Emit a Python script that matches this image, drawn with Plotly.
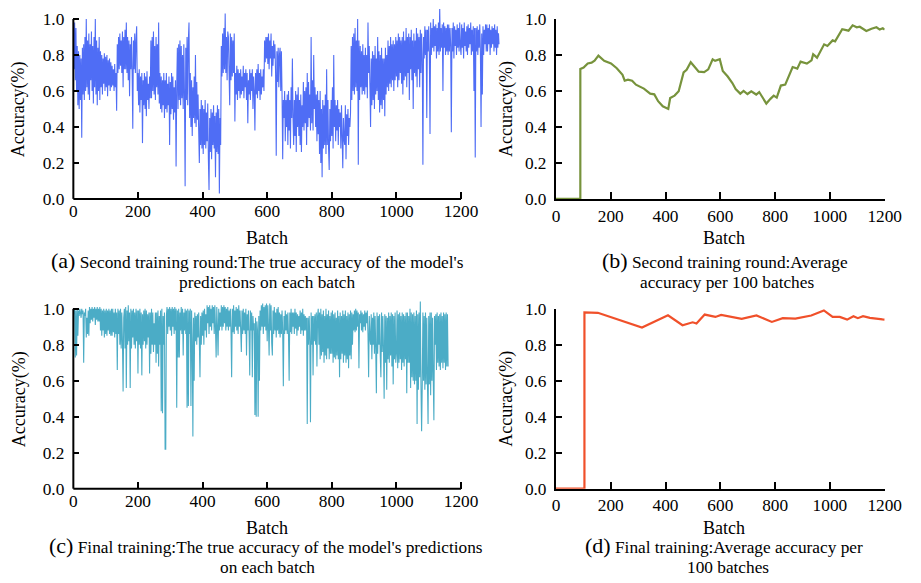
import plotly.graph_objects as go

# ---------------- data ----------------
# Per-batch accuracy, second training round (every 2nd batch, 20 values per row = 40 batches)
round2_batch_acc = [
    1.00, 0.72, 0.98, 0.66, 0.95, 0.60, 0.85, 0.52, 0.82, 0.50, 0.80, 0.55, 0.78, 0.34, 0.84, 0.58, 0.86, 0.55, 0.90, 0.60,
    1.00, 0.62, 0.88, 0.58, 0.92, 0.55, 0.86, 0.66, 0.93, 0.60, 0.85, 0.53, 0.90, 0.62, 1.00, 0.58, 0.88, 0.52, 0.84, 0.60,
    0.90, 0.55, 0.82, 0.62, 0.80, 0.58, 0.78, 0.64, 0.81, 0.60, 0.79, 0.62, 0.80, 0.57, 0.77, 0.63, 0.78, 0.60, 0.76, 0.62,
    0.74, 0.63, 0.72, 0.60, 0.75, 0.62, 0.70, 0.49, 0.86, 0.70, 0.90, 0.72, 0.92, 0.74, 0.88, 0.70, 0.93, 0.62, 0.90, 0.72,
    0.94, 0.72, 0.98, 0.70, 0.90, 0.66, 0.88, 0.57, 0.86, 0.72, 0.90, 0.70, 0.39, 0.88, 0.72, 0.92, 0.70, 0.88, 0.96, 0.60,
    0.70, 0.52, 0.72, 0.48, 0.68, 0.55, 0.70, 0.31, 0.66, 0.52, 0.70, 0.50, 0.68, 0.46, 0.71, 0.55, 0.64, 0.50, 0.68, 0.56,
    0.88, 0.56, 0.90, 0.60, 0.93, 0.58, 0.85, 0.55, 0.90, 0.62, 0.86, 0.58, 0.98, 0.53, 0.70, 0.50, 0.68, 0.48, 0.66, 0.52,
    0.70, 0.45, 0.66, 0.50, 0.70, 0.48, 0.64, 0.52, 0.68, 0.30, 0.65, 0.47, 0.70, 0.50, 0.68, 0.44, 0.62, 0.48, 0.66, 0.18,
    0.62, 0.84, 0.50, 0.86, 0.55, 0.88, 0.52, 0.85, 0.56, 0.80, 0.50, 0.86, 0.58, 0.07, 0.84, 0.55, 0.90, 0.52, 0.88, 0.98,
    0.45, 0.70, 0.40, 0.66, 0.35, 0.62, 0.45, 0.68, 0.42, 0.80, 0.40, 0.65, 0.44, 0.58, 0.38, 0.20, 0.50, 0.30, 0.55, 0.28,
    0.52, 0.25, 0.50, 0.30, 0.55, 0.28, 0.48, 0.32, 0.53, 0.22, 0.05, 0.45, 0.26, 0.50, 0.22, 0.48, 0.30, 0.52, 0.28, 0.46,
    0.12, 0.48, 0.26, 0.52, 0.25, 0.50, 0.03, 0.45, 0.30, 0.85, 0.68, 0.92, 0.70, 0.95, 0.72, 1.03, 0.70, 0.90, 0.66, 0.93,
    0.90, 0.70, 0.52, 0.92, 0.66, 0.90, 0.68, 0.88, 0.70, 0.92, 0.43, 0.70, 0.58, 0.74, 0.55, 0.72, 0.60, 0.70, 0.56, 0.72,
    0.58, 0.68, 0.60, 0.74, 0.56, 0.70, 0.62, 0.72, 0.55, 0.70, 0.42, 0.66, 0.58, 0.72, 0.55, 0.70, 0.60, 0.72, 0.50, 0.68,
    0.60, 0.38, 0.70, 0.58, 0.72, 0.56, 0.75, 0.60, 0.70, 0.55, 0.72, 0.58, 0.68, 0.62, 0.72, 0.60, 0.88, 0.76, 0.90, 0.78,
    0.90, 0.75, 0.92, 0.72, 0.88, 0.78, 0.92, 0.68, 0.85, 0.74, 0.88, 0.78, 0.86, 0.70, 0.24, 0.82, 0.65, 0.84, 0.62, 0.80,
    0.84, 0.60, 0.82, 0.58, 0.22, 0.55, 0.45, 0.60, 0.32, 0.55, 0.40, 0.58, 0.30, 0.60, 0.38, 0.55, 0.28, 0.62, 0.45, 0.78,
    0.45, 0.30, 0.55, 0.35, 0.60, 0.26, 0.58, 0.40, 0.62, 0.35, 0.55, 0.30, 0.58, 0.26, 0.52, 0.40, 0.65, 0.38, 0.60, 0.42,
    0.62, 0.30, 0.70, 0.40, 0.65, 0.45, 0.58, 0.38, 0.90, 0.42, 0.66, 0.38, 0.80, 0.50, 0.62, 0.40, 0.58, 0.32, 0.60, 0.36,
    0.55, 0.25, 0.60, 0.20, 0.50, 0.12, 0.55, 0.28, 0.52, 0.30, 0.58, 0.25, 0.72, 0.30, 0.55, 0.28, 0.16, 0.50, 0.32, 0.55,
    0.35, 0.62, 0.28, 0.80, 0.40, 0.55, 0.32, 0.52, 0.38, 0.55, 0.30, 0.50, 0.40, 0.48, 0.28, 0.52, 0.35, 0.17, 0.45, 0.33,
    0.30, 0.52, 0.22, 0.47, 0.35, 0.50, 0.30, 0.45, 0.40, 0.48, 0.85, 0.55, 0.90, 0.60, 0.92, 0.58, 0.95, 0.62, 0.88, 0.60,
    1.00, 0.19, 0.88, 0.55, 0.85, 0.62, 0.82, 0.58, 0.86, 0.60, 0.80, 0.58, 0.84, 0.62, 0.80, 0.56, 0.98, 0.70, 0.85, 0.62,
    0.40, 0.78, 0.52, 0.82, 0.55, 0.80, 0.50, 0.85, 0.58, 0.78, 0.60, 0.90, 0.55, 0.82, 0.48, 0.80, 0.52, 0.84, 0.50, 0.78,
    0.55, 0.78, 0.46, 0.84, 0.58, 0.80, 0.62, 0.88, 0.60, 0.85, 0.64, 0.90, 0.62, 0.86, 0.66, 0.88, 0.60, 0.86, 0.66, 0.90,
    0.68, 0.88, 0.62, 0.92, 0.66, 0.90, 0.70, 0.88, 0.64, 0.90, 0.58, 0.93, 0.66, 0.88, 0.68, 0.95, 0.62, 0.90, 0.70, 0.92,
    0.55, 0.90, 0.72, 0.94, 0.66, 0.88, 0.50, 0.92, 0.70, 0.88, 0.68, 0.95, 0.62, 0.92, 0.72, 0.90, 0.62, 0.94, 0.70, 0.92,
    0.78, 0.19, 0.90, 0.78, 0.96, 0.80, 0.94, 0.45, 0.94, 0.82, 0.96, 0.80, 0.36, 0.98, 0.80, 0.95, 0.84, 1.00, 0.82, 0.96,
    0.85, 0.97, 0.78, 0.95, 0.82, 0.98, 0.80, 1.07, 0.82, 0.95, 0.84, 0.97, 0.60, 0.98, 0.84, 0.96, 0.80, 0.95, 0.82, 0.97,
    0.80, 0.97, 0.82, 0.95, 0.85, 0.37, 0.95, 0.82, 0.98, 0.78, 0.96, 0.85, 0.94, 0.80, 0.97, 0.84, 0.95, 0.82, 0.98, 0.85,
    0.80, 0.97, 0.84, 0.95, 0.78, 0.98, 0.85, 0.93, 0.82, 0.96, 0.80, 0.97, 0.84, 0.95, 0.86, 0.98, 0.80, 0.94, 0.82, 0.96,
    0.60, 0.95, 0.23, 0.95, 0.82, 0.96, 0.80, 0.94, 0.84, 0.97, 0.82, 0.40, 0.92, 0.58, 0.96, 0.80, 0.94, 0.86, 0.97, 0.82,
    0.97, 0.82, 0.95, 0.86, 0.97, 0.80, 0.94, 0.84, 0.96, 0.86, 0.95, 0.82, 0.97, 0.84, 0.94, 0.80, 0.96, 0.84, 0.92, 0.86,
]

# Per-batch accuracy, final training (every 2nd batch, 20 values per row = 40 batches)
final_batch_acc = [
    1.00, 0.97, 1.00, 0.73, 0.99, 0.74, 1.00, 0.85, 0.99, 0.96, 1.00, 0.98, 0.95, 1.00, 0.97, 0.99, 0.70, 0.98, 0.96, 1.00,
    0.84, 0.95, 0.86, 0.99, 0.85, 1.01, 0.92, 1.00, 0.94, 1.01, 0.93, 1.00, 0.95, 1.01, 0.91, 1.00, 0.94, 1.01, 0.93, 1.00,
    0.93, 1.01, 0.88, 1.00, 0.85, 0.99, 0.88, 1.00, 0.84, 0.99, 0.86, 1.00, 0.85, 0.99, 0.88, 1.00, 0.86, 0.99, 0.85, 1.00,
    0.85, 1.00, 0.87, 0.98, 0.84, 1.00, 0.86, 0.98, 0.66, 1.00, 0.86, 0.99, 0.80, 1.00, 0.78, 0.98, 0.82, 0.54, 0.95, 1.00,
    0.78, 1.01, 0.56, 0.99, 0.80, 1.02, 0.82, 0.98, 0.56, 1.00, 0.78, 0.99, 0.84, 1.00, 0.80, 0.98, 0.78, 1.00, 0.82, 0.99,
    0.64, 0.99, 0.80, 1.00, 0.78, 0.98, 0.63, 0.97, 0.80, 0.99, 0.82, 1.00, 0.78, 0.99, 0.80, 0.97, 0.84, 0.98, 0.64, 0.98,
    0.75, 1.00, 0.80, 0.98, 0.76, 0.92, 0.80, 0.98, 0.70, 0.98, 0.75, 0.99, 0.68, 0.96, 0.80, 0.99, 0.43, 1.00, 0.42, 0.96,
    0.80, 0.98, 0.22, 0.22, 0.96, 1.01, 0.86, 1.00, 0.90, 1.01, 0.88, 1.00, 0.85, 1.01, 0.90, 1.00, 0.86, 1.01, 0.88, 1.00,
    0.45, 0.99, 0.73, 1.00, 0.73, 0.98, 0.88, 1.01, 0.86, 1.00, 0.74, 0.98, 0.88, 1.00, 0.86, 0.99, 0.45, 1.00, 0.46, 0.99,
    0.86, 1.00, 0.46, 0.99, 0.82, 0.29, 0.95, 0.60, 0.98, 0.82, 0.96, 0.80, 0.97, 0.84, 0.98, 0.82, 0.62, 0.96, 0.80, 0.98,
    0.85, 0.99, 0.80, 1.00, 0.88, 0.97, 0.84, 1.02, 0.92, 1.01, 0.86, 1.02, 0.90, 1.00, 0.88, 1.02, 0.92, 1.01, 0.86, 1.02,
    0.90, 0.73, 1.01, 0.90, 0.74, 1.00, 0.88, 0.98, 0.90, 1.02, 0.88, 1.01, 0.90, 1.02, 0.92, 1.01, 0.88, 1.00, 0.90, 1.01,
    0.88, 0.99, 0.90, 1.00, 0.88, 0.62, 1.00, 0.87, 1.02, 0.86, 0.99, 0.90, 1.01, 0.88, 1.00, 0.86, 1.02, 0.90, 0.99, 0.88,
    0.76, 0.99, 0.86, 1.00, 0.88, 0.98, 0.86, 1.00, 0.74, 0.97, 0.88, 0.99, 0.86, 0.63, 0.99, 0.88, 0.98, 0.62, 0.96, 0.88,
    0.92, 0.41, 0.95, 0.40, 0.93, 0.88, 0.40, 0.96, 0.60, 0.99, 0.88, 1.02, 0.90, 1.03, 0.86, 1.01, 0.90, 1.02, 0.88, 1.03,
    0.82, 1.02, 0.90, 0.74, 1.03, 0.88, 1.02, 0.81, 0.74, 0.99, 0.86, 1.01, 0.88, 0.98, 0.84, 1.00, 0.88, 1.01, 0.86, 0.98,
    0.84, 0.97, 0.86, 0.99, 0.88, 0.57, 0.96, 0.86, 0.99, 0.88, 0.97, 0.86, 0.98, 0.85, 0.60, 0.98, 0.87, 1.00, 0.86, 0.98,
    0.90, 0.98, 0.86, 1.00, 0.89, 0.98, 0.85, 0.97, 0.88, 0.96, 0.90, 0.99, 0.86, 0.98, 0.88, 1.00, 0.85, 0.97, 0.88, 0.96,
    0.88, 0.95, 0.36, 0.95, 0.80, 0.96, 0.82, 0.37, 0.98, 0.80, 0.96, 0.63, 0.96, 0.82, 0.97, 0.80, 0.98, 0.68, 0.96, 1.00,
    0.80, 0.98, 0.72, 1.00, 0.74, 0.97, 0.76, 0.99, 0.70, 0.96, 0.74, 1.00, 0.72, 0.97, 0.78, 0.99, 0.72, 0.96, 0.75, 0.98,
    0.75, 0.99, 0.70, 0.97, 0.73, 0.98, 0.72, 0.95, 0.74, 0.99, 0.72, 0.96, 0.62, 0.98, 0.72, 0.96, 0.75, 0.99, 0.70, 0.97,
    0.74, 0.99, 0.70, 0.96, 0.72, 0.98, 0.67, 0.97, 0.74, 0.99, 0.72, 0.98, 0.80, 0.97, 0.88, 0.99, 0.87, 1.00, 0.88, 0.99,
    0.90, 0.98, 0.67, 0.97, 0.92, 0.99, 0.88, 0.98, 0.87, 0.97, 0.90, 0.99, 0.88, 0.98, 0.92, 0.99, 0.86, 0.62, 0.96, 0.84,
    0.80, 0.97, 0.72, 0.95, 0.80, 0.98, 0.75, 0.96, 0.78, 0.53, 0.98, 0.75, 0.96, 0.80, 0.97, 0.74, 0.62, 0.98, 0.76, 0.96,
    0.78, 0.50, 0.97, 0.70, 0.96, 0.55, 0.95, 0.72, 0.98, 0.70, 0.96, 0.74, 0.98, 0.68, 0.97, 0.58, 0.96, 0.72, 0.98, 0.70,
    0.75, 0.99, 0.67, 0.97, 0.70, 0.98, 0.72, 0.96, 0.66, 0.98, 0.70, 0.97, 0.68, 0.96, 0.72, 0.98, 0.53, 0.98, 0.70, 0.96,
    0.70, 1.00, 0.56, 0.98, 0.62, 0.97, 0.60, 0.98, 0.58, 0.96, 0.60, 0.99, 0.36, 0.97, 0.55, 0.98, 0.62, 1.04, 0.58, 0.32,
    0.58, 0.98, 0.60, 0.96, 0.55, 0.98, 0.58, 0.95, 0.60, 0.36, 0.96, 0.58, 0.98, 0.52, 0.98, 0.60, 0.95, 0.62, 0.38, 0.96,
    0.80, 0.97, 0.66, 0.98, 0.70, 0.96, 0.68, 0.97, 0.66, 0.98, 0.70, 0.96, 0.67, 0.98, 0.70, 0.97, 0.66, 0.98, 0.68, 0.97,
    0.68,
]
BATCH_STEP = 2
round2_batches = [i * BATCH_STEP for i in range(len(round2_batch_acc))]
final_batches = [i * BATCH_STEP for i in range(len(final_batch_acc))]

# Average accuracy per 100 batches, second training round
round2_avg_batch = [0, 89, 89, 101, 116, 130, 141, 155, 176, 201, 222, 243, 251,
                    263, 278, 292, 321, 344, 359, 373, 390, 410, 417, 433, 448,
                    456, 466, 477, 492, 506, 521, 541, 556, 572, 581, 598, 609,
                    627, 644, 656, 673, 685, 699, 713, 731, 742, 768, 783, 795,
                    806, 821, 837, 864, 881, 893, 916, 933, 939, 953, 979, 991,
                    1010, 1019, 1045, 1068, 1083, 1098, 1109, 1133, 1152, 1170,
                    1182, 1193, 1200]
round2_avg_acc = [0, 0, 0.722, 0.73, 0.753, 0.757, 0.768, 0.796, 0.767, 0.753,
                  0.726, 0.69, 0.657, 0.663, 0.657, 0.635, 0.613, 0.585, 0.581,
                  0.543, 0.515, 0.5, 0.561, 0.574, 0.598, 0.644, 0.703, 0.718,
                  0.76, 0.735, 0.707, 0.705, 0.72, 0.776, 0.767, 0.776, 0.711,
                  0.68, 0.644, 0.611, 0.585, 0.6, 0.583, 0.598, 0.58, 0.594,
                  0.53, 0.556, 0.574, 0.563, 0.63, 0.635, 0.733, 0.724, 0.763,
                  0.752, 0.77, 0.804, 0.785, 0.859, 0.85, 0.881, 0.876, 0.943,
                  0.935, 0.965, 0.954, 0.957, 0.933, 0.946, 0.954, 0.941, 0.948,
                  0.941]

# Average accuracy per 100 batches, final training
final_avg_batch = [0, 104, 104, 153, 314, 360, 409, 462, 499, 513, 543, 582, 603,
                   678, 732, 788, 828, 874, 932, 978, 1010, 1036, 1063, 1086,
                   1102, 1121, 1146, 1192, 1200]
final_avg_acc = [0, 0, 0.98, 0.978, 0.896, 0.927, 0.964, 0.909, 0.925, 0.918,
                 0.968, 0.955, 0.966, 0.944, 0.963, 0.927, 0.948, 0.946, 0.963,
                 0.991, 0.955, 0.955, 0.94, 0.959, 0.948, 0.959, 0.95, 0.941,
                 0.94]

x_ticks = [0, 200, 400, 600, 800, 1000, 1200]
y_ticks = [0.0, 0.2, 0.4, 0.6, 0.8, 1.0]
y_tick_text = ["0.0", "0.2", "0.4", "0.6", "0.8", "1.0"]

# ---------------- page geometry ----------------
# Positions below are given in window pixels; the page shows the figure
# slightly reduced and offset, so they are mapped back to figure pixels.
W, H = 921, 583
X_SCALE, X_OFF = 0.978, 3.6
Y_SCALE, Y_OFF = 0.968, 9.0
FONT = "Liberation Serif"


def px_x(p):
    return ((p - X_OFF) / X_SCALE) / W


def px_y(p):
    return 1 - ((p - Y_OFF) / Y_SCALE) / H


fig = go.Figure()

fig.add_trace(go.Scatter(x=round2_batches, y=round2_batch_acc, mode="lines",
                         line=dict(color="#4F6DF5", width=1.1, simplify=False),
                         xaxis="x", yaxis="y", showlegend=False))
fig.add_trace(go.Scatter(x=round2_avg_batch, y=round2_avg_acc, mode="lines",
                         line=dict(color="#77933C", width=2.2),
                         xaxis="x2", yaxis="y2", showlegend=False))
fig.add_trace(go.Scatter(x=final_batches, y=final_batch_acc, mode="lines",
                         line=dict(color="#4BACC6", width=1.1, simplify=False),
                         xaxis="x3", yaxis="y3", showlegend=False))
fig.add_trace(go.Scatter(x=final_avg_batch, y=final_avg_acc, mode="lines",
                         line=dict(color="#F0502A", width=2.2),
                         xaxis="x4", yaxis="y4", showlegend=False))

tick_font = dict(family=FONT, size=17.3, color="black")
common_x = dict(tickvals=x_ticks, ticks="inside", ticklen=7, tickwidth=2,
                tickcolor="black", showgrid=False, zeroline=False,
                tickfont=tick_font)
common_y = dict(tickvals=y_ticks, ticktext=y_tick_text, ticks="inside",
                ticklen=6, tickwidth=2, tickcolor="black", showgrid=False,
                zeroline=False, tickfont=tick_font)

PX_PER_ACC = 180            # window pixels per 1.0 accuracy
PX_PER_BATCH = 388 / 1200   # left panels
WIDE_RANGE = [0, 1320]      # per-batch curves run past the last labelled tick
TOP_ZERO, BOT_ZERO = 199, 489
TALL_TOP = (TOP_ZERO - Y_OFF) / PX_PER_ACC
TALL_RANGE = [0, TALL_TOP]

left_dom = [px_x(73), px_x(73 + WIDE_RANGE[1] * PX_PER_BATCH)]
right_dom = [px_x(556), min(1.0, px_x(885))]
top_left_dom = [px_y(TOP_ZERO), min(1.0, px_y(TOP_ZERO - TALL_TOP * PX_PER_ACC))]
bot_left_dom = [px_y(BOT_ZERO), px_y(BOT_ZERO - TALL_TOP * PX_PER_ACC)]
top_right_dom = [px_y(TOP_ZERO), px_y(TOP_ZERO - PX_PER_ACC)]
bot_right_dom = [px_y(BOT_ZERO), px_y(BOT_ZERO - PX_PER_ACC)]

fig.update_layout(
    width=W, height=H,
    margin=dict(l=0, r=0, t=0, b=0),
    paper_bgcolor="white", plot_bgcolor="white",
    font=dict(family=FONT, color="black"),
    xaxis=dict(domain=left_dom, range=WIDE_RANGE, anchor="y", showline=False, **common_x),
    yaxis=dict(domain=top_left_dom, range=TALL_RANGE, anchor="x", showline=False,
               ticklabelstandoff=8, **common_y),
    xaxis2=dict(domain=right_dom, range=[0, 1200], anchor="y2", showline=True,
                linecolor="black", linewidth=2, layer="below traces", **common_x),
    yaxis2=dict(domain=top_right_dom, range=[0, 1.0], anchor="x2", showline=True,
                linecolor="black", linewidth=2, layer="below traces",
                ticklabelstandoff=4, **common_y),
    xaxis3=dict(domain=left_dom, range=WIDE_RANGE, anchor="y3", showline=False, **common_x),
    yaxis3=dict(domain=bot_left_dom, range=TALL_RANGE, anchor="x3", showline=False,
                ticklabelstandoff=8, **common_y),
    xaxis4=dict(domain=right_dom, range=[0, 1200], anchor="y4", showline=True,
                linecolor="black", linewidth=2, layer="below traces", **common_x),
    yaxis4=dict(domain=bot_right_dom, range=[0, 1.0], anchor="x4", showline=True,
                linecolor="black", linewidth=2, layer="below traces",
                ticklabelstandoff=4, **common_y),
)

# Axis lines of the left panels stop at batch 1200 and accuracy 1.0
shapes = []
for xa, ya in (("x", "y"), ("x3", "y3")):
    shapes.append(dict(type="line", xref=f"{xa} domain", yref=f"{ya} domain",
                       x0=0, x1=1200 / WIDE_RANGE[1], y0=0, y1=0,
                       line=dict(color="black", width=2)))
    shapes.append(dict(type="line", xref=f"{xa} domain", yref=f"{ya} domain",
                       x0=0, x1=0, y0=0, y1=1.0 / TALL_RANGE[1],
                       line=dict(color="black", width=2)))
fig.update_layout(shapes=shapes)

ann = []


def text(x, y, s, size=17.0, angle=0):
    ann.append(dict(x=px_x(x), y=px_y(y), xref="paper", yref="paper", text=s,
                    showarrow=False, xanchor="center", yanchor="middle",
                    textangle=angle, font=dict(family=FONT, size=size, color="black")))


# axis titles
for cx, cy in ((267, 238), (724, 238), (267, 528), (724, 528)):
    text(cx, cy, "Batch", size=18)
for cx, cy in ((19, 109), (507, 109), (19, 399), (507, 399)):
    text(cx, cy, "Accuracy(%)", size=18, angle=-90)

CAP = 17.3
big = '<span style="font-size:22px">{}</span>'
text(257, 261, big.format("(a)") + " Second training round:The true accuracy of the model's", CAP)
text(267, 283, "predictions on each batch", CAP)
text(725, 261, big.format("(b)") + " Second training round:Average", CAP)
text(727, 283, "accuracy per 100 batches", CAP)
text(266, 546, big.format("(c)") + " Final training:The true accuracy of the model's predictions", CAP)
text(267, 568, "on each batch", CAP)
text(724, 546, big.format("(d)") + " Final training:Average accuracy per", CAP)
text(728, 568, "100 batches", CAP)

fig.update_layout(annotations=ann)

fig.write_html("out.html")
